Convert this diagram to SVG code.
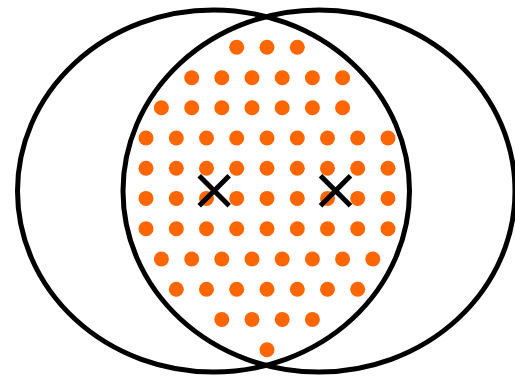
<svg xmlns="http://www.w3.org/2000/svg" width="515" height="378" viewBox="0 0 515 378">
<style>
.ell{fill:none;stroke:#000;stroke-width:5}
.d{fill:#FF6600}
.x{stroke:#000;stroke-width:5;fill:none}
</style>
<rect width="515" height="378" fill="#fff"/>
<g id="ellipse-left"><ellipse class="ell" cx="213.5" cy="191" rx="196" ry="181"/></g>
<g id="ellipse-right"><ellipse class="ell" cx="319" cy="191" rx="196" ry="181"/></g>
<g id="dots">
<circle class="d" cx="236.7" cy="47.3" r="7.5"/><circle class="d" cx="267" cy="47.3" r="7.5"/><circle class="d" cx="297.3" cy="47.3" r="7.5"/>
<circle class="d" cx="191.7" cy="77.7" r="7.5"/><circle class="d" cx="221.8" cy="77.7" r="7.5"/><circle class="d" cx="252" cy="77.7" r="7.5"/><circle class="d" cx="282.2" cy="77.7" r="7.5"/><circle class="d" cx="312.4" cy="77.7" r="7.5"/><circle class="d" cx="342.6" cy="77.7" r="7.5"/>
<circle class="d" cx="161.4" cy="107.8" r="7.5"/><circle class="d" cx="191.7" cy="107.8" r="7.5"/><circle class="d" cx="221.8" cy="107.8" r="7.5"/><circle class="d" cx="252" cy="107.8" r="7.5"/><circle class="d" cx="282.2" cy="107.8" r="7.5"/><circle class="d" cx="312.4" cy="107.8" r="7.5"/><circle class="d" cx="342.6" cy="107.8" r="7.5"/>
<circle class="d" cx="146" cy="138" r="7.5"/><circle class="d" cx="176.3" cy="138" r="7.5"/><circle class="d" cx="206.5" cy="138" r="7.5"/><circle class="d" cx="236.7" cy="138" r="7.5"/><circle class="d" cx="267" cy="138" r="7.5"/><circle class="d" cx="297.3" cy="138" r="7.5"/><circle class="d" cx="327.5" cy="138" r="7.5"/><circle class="d" cx="357.7" cy="138" r="7.5"/><circle class="d" cx="388" cy="138" r="7.5"/>
<circle class="d" cx="146" cy="168.3" r="7.5"/><circle class="d" cx="176.3" cy="168.3" r="7.5"/><circle class="d" cx="206.5" cy="168.3" r="7.5"/><circle class="d" cx="236.7" cy="168.3" r="7.5"/><circle class="d" cx="267" cy="168.3" r="7.5"/><circle class="d" cx="297.3" cy="168.3" r="7.5"/><circle class="d" cx="327.5" cy="168.3" r="7.5"/><circle class="d" cx="357.7" cy="168.3" r="7.5"/><circle class="d" cx="388" cy="168.3" r="7.5"/>
<circle class="d" cx="146" cy="198.4" r="7.5"/><circle class="d" cx="176.3" cy="198.4" r="7.5"/><circle class="d" cx="206.5" cy="198.4" r="7.5"/><circle class="d" cx="236.7" cy="198.4" r="7.5"/><circle class="d" cx="267" cy="198.4" r="7.5"/><circle class="d" cx="297.3" cy="198.4" r="7.5"/><circle class="d" cx="327.5" cy="198.4" r="7.5"/><circle class="d" cx="357.7" cy="198.4" r="7.5"/><circle class="d" cx="388" cy="198.4" r="7.5"/>
<circle class="d" cx="146" cy="228.7" r="7.5"/><circle class="d" cx="176.3" cy="228.7" r="7.5"/><circle class="d" cx="206.5" cy="228.7" r="7.5"/><circle class="d" cx="236.7" cy="228.7" r="7.5"/><circle class="d" cx="267" cy="228.7" r="7.5"/><circle class="d" cx="297.3" cy="228.7" r="7.5"/><circle class="d" cx="327.5" cy="228.7" r="7.5"/><circle class="d" cx="357.7" cy="228.7" r="7.5"/><circle class="d" cx="388" cy="228.7" r="7.5"/>
<circle class="d" cx="161.4" cy="259" r="7.5"/><circle class="d" cx="191.7" cy="259" r="7.5"/><circle class="d" cx="221.8" cy="259" r="7.5"/><circle class="d" cx="252" cy="259" r="7.5"/><circle class="d" cx="282.2" cy="259" r="7.5"/><circle class="d" cx="312.4" cy="259" r="7.5"/><circle class="d" cx="342.6" cy="259" r="7.5"/><circle class="d" cx="372.8" cy="259" r="7.5"/>
<circle class="d" cx="176.3" cy="289.2" r="7.5"/><circle class="d" cx="206.5" cy="289.2" r="7.5"/><circle class="d" cx="236.7" cy="289.2" r="7.5"/><circle class="d" cx="267" cy="289.2" r="7.5"/><circle class="d" cx="297.3" cy="289.2" r="7.5"/><circle class="d" cx="327.5" cy="289.2" r="7.5"/><circle class="d" cx="357.7" cy="289.2" r="7.5"/>
<circle class="d" cx="221.8" cy="319.4" r="7.5"/><circle class="d" cx="252" cy="319.4" r="7.5"/><circle class="d" cx="282.2" cy="319.4" r="7.5"/><circle class="d" cx="312.4" cy="319.4" r="7.5"/>
<circle class="d" cx="267" cy="349.7" r="7.5"/>
</g>
<g id="cross-left"><path class="x" d="M199.2,175.7 L229.2,205.7 M229.2,175.7 L199.2,205.7"/></g>
<g id="cross-right"><path class="x" d="M320.5,175.7 L350.5,205.7 M350.5,175.7 L320.5,205.7"/></g>
</svg>
